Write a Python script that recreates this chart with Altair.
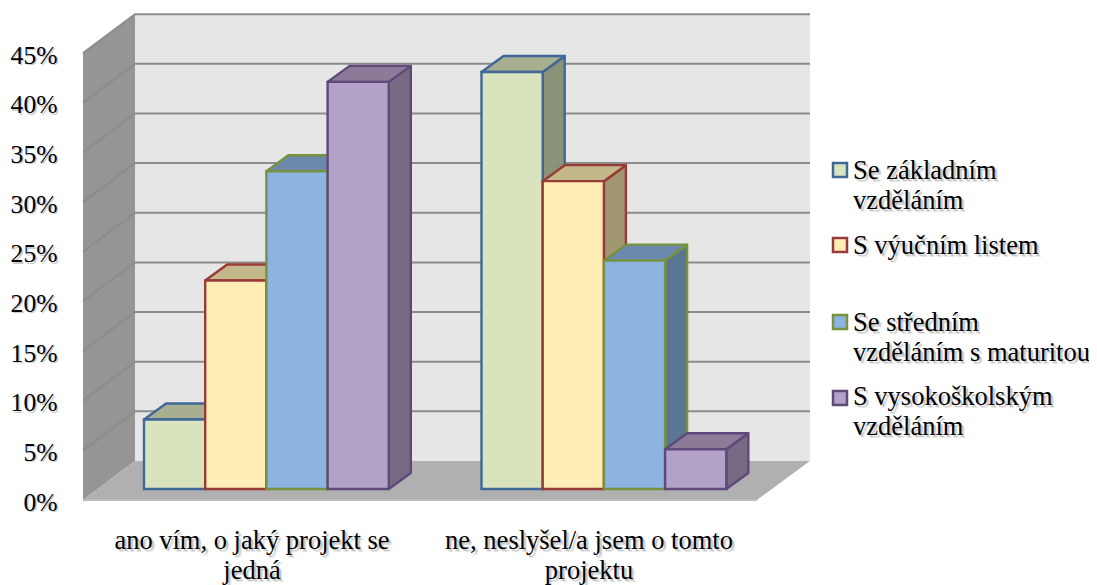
import altair as alt
import pandas as pd

FONT = "Liberation Serif"
categories = ["ano vím, o jaký projekt se\njedná", "ne, neslyšel/a jsem o tomto\nprojektu"]
series = ["Se základním\nvzděláním", "S výučním listem", "Se středním\nvzděláním s maturitou", "S vysokoškolským\nvzděláním"]
values_by_group = [[7, 21, 32, 41], [42, 31, 23, 4]]
ticks = [0, 5, 10, 15, 20, 25, 30, 35, 40, 45]
grid_values = [5, 10, 15, 20, 25, 30, 35, 40, 45]

front_fill = ["#D9E4BF", "#FEEEB5", "#8DB3E2", "#B3A2C7"]
top_fill = ["#A8AF90", "#C4B78A", "#6C89AC", "#8B7A98"]
side_fill = ["#8A9377", "#A19872", "#5B7693", "#766A85"]
edge = ["#3F6797", "#983A37", "#76923C", "#5F497A"]

PX = 9.93              # pixels per percent
def py(img_y):
    return (489 - img_y) / PX

xs = alt.Scale(domain=[68, 1089], range=[0, 1021])
ys = alt.Scale(domain=[py(585), py(8)], range=[577, 0])
X = alt.X("x:Q", scale=xs, axis=None)
Y = alt.Y("y:Q", scale=ys, axis=None)
Y2 = alt.Y2("y2:Q")
X2 = alt.X2("x2:Q")

back_y, front_y = py(461), py(500)
wall_l, wall_r, floor_r = 83, 135, 757
wall_far = 810
top = 45


def area(rows, fill, **kw):
    df = pd.DataFrame(rows, columns=["x", "y", "y2"])
    return alt.Chart(df).mark_area(fill=fill, **kw).encode(x=X, y=Y, y2=Y2)


layers = []
# back wall
layers.append(alt.Chart(pd.DataFrame([dict(x=wall_r, x2=wall_far, y=back_y + top, y2=back_y)]))
              .mark_rect(fill="#E6E6E6").encode(x=X, x2=X2, y=Y, y2=Y2))
# left wall
layers.append(area([(wall_l, front_y + top, front_y), (wall_r, back_y + top, back_y)], "#959595"))
# floor
layers.append(area([(wall_l, front_y, front_y), (wall_r, back_y, front_y),
                    (floor_r, back_y, front_y), (wall_far, back_y, back_y)], "#B0B0B0"))
# gridlines
grid_rows = []
for v in grid_values:
    grid_rows += [dict(k=v, x=wall_l, y=front_y + v), dict(k=v, x=wall_r, y=back_y + v), dict(k=v, x=wall_far, y=back_y + v)]
layers.append(alt.Chart(pd.DataFrame(grid_rows)).mark_line(color="#8C8C8C", strokeWidth=2)
              .encode(x=X, y=Y, detail="k:N"))
# base line of wall and front floor edge
layers.append(alt.Chart(pd.DataFrame([dict(x=wall_l, y=front_y), dict(x=floor_r, y=front_y)]))
              .mark_line(color="#BDBDBD", strokeWidth=2).encode(x=X, y=Y))

# bars
group_start = [144, 481.5]
BW = 61.2
DX, DY = 22, 16 / PX
for g, vals in enumerate(values_by_group):
    for i, v in enumerate(vals):
        x0 = group_start[g] + i * BW
        x1 = x0 + BW
        # side face
        layers.append(area([(x1, v, 0), (x1 + DX, v + DY, DY)], side_fill[i],
                           stroke=edge[i], strokeWidth=2.4, strokeJoin="round"))
        # top face
        layers.append(area([(x0, v, v), (x0 + DX, v + DY, v), (x1, v + DY, v), (x1 + DX, v + DY, v + DY)], top_fill[i],
                           stroke=edge[i], strokeWidth=2.4, strokeJoin="round"))
        # front face
        layers.append(alt.Chart(pd.DataFrame([dict(x=x0, x2=x1, y=v, y2=0, s=series[i])]))
                      .mark_rect(fill=front_fill[i], stroke=edge[i], strokeWidth=2.4)
                      .encode(x=X, x2=X2, y=Y, y2=Y2))


def text_layer(txt, x, img_y, size, align="left"):
    df = pd.DataFrame([dict(t=txt, x=x, y=py(img_y))])
    out = []
    for off, op in [(3, 0.14), (2, 0.22)]:
        out.append(alt.Chart(df).mark_text(font=FONT, fontSize=size, align=align, baseline="alphabetic",
                                           lineBreak="\n", lineHeight=LH, color="#555555", opacity=op,
                                           dx=off, dy=off)
                   .encode(x=X, y=Y, text="t:N"))
    out.append(alt.Chart(df).mark_text(font=FONT, fontSize=size, align=align, baseline="alphabetic",
                                       lineBreak="\n", lineHeight=LH, color="#000000")
               .encode(x=X, y=Y, text="t:N"))
    return out


LH = 30
SIZE = 26.5
# category labels
layers += text_layer(categories[0], 252, 549, SIZE, "center")
layers += text_layer(categories[1], 589, 549, SIZE, "center")

# legend
legend_y = [170, 245, 322, 398]
legend_base = [179, 254, 331, 405]
for i, s in enumerate(series):
    layers.append(alt.Chart(pd.DataFrame([dict(x=833, x2=847, y=py(legend_y[i] - 7), y2=py(legend_y[i] + 7))]))
                  .mark_rect(fill=front_fill[i], stroke=edge[i], strokeWidth=2.5)
                  .encode(x=X, x2=X2, y=Y, y2=Y2))
    layers += text_layer(s, 853, legend_base[i], SIZE)

geom = alt.layer(*layers)

# y axis (front plane scale) with soft label shadow
axis_scale = alt.Scale(domain=[0, 45], range=[494, 47])
tick_df = pd.DataFrame({"t": ticks, "label": [f"{t}%" for t in ticks]})
axis_layer = alt.Chart(tick_df).mark_text(font=FONT, fontSize=25.6, align="right", baseline="middle",
                                          color="#555555", opacity=0.3, dx=2, dy=2).encode(
    x=alt.value(-11),
    y=alt.Y("t:Q", scale=axis_scale,
            axis=alt.Axis(orient="left", values=ticks, labelExpr="datum.value + '%'", title=None, domain=False,
                          ticks=False, grid=False, labelFont=FONT, labelFontSize=25.6, labelColor="#000000",
                          labelPadding=11, zindex=1, labelOverlap=False)),
    text="label:N",
)

chart = (alt.layer(geom, axis_layer)
         .resolve_scale(y="independent")
         .properties(width=1021, height=577, padding={"left": 60, "top": 0, "right": 0, "bottom": 0},
                     autosize=alt.AutoSizeParams(type="none"), background="white")
         .configure_view(stroke=None))

chart.save("out.html", embed_options={"renderer": "svg", "actions": False})
